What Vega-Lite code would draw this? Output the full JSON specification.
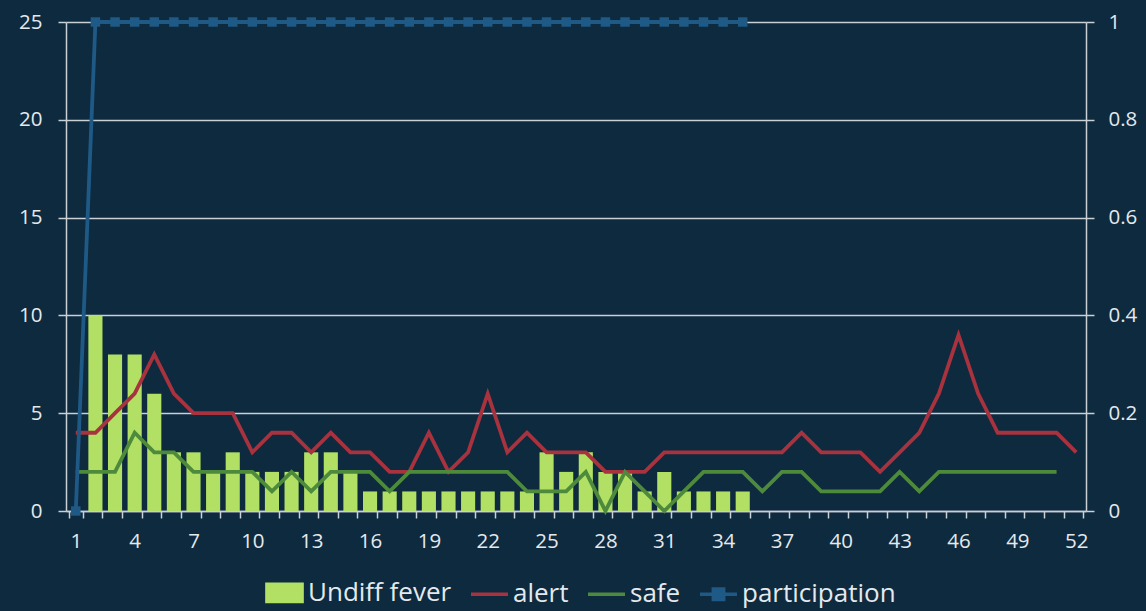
{
  "$schema": "https://vega.github.io/schema/vega-lite/v6.json",
  "width": 1020,
  "height": 489,
  "autosize": "none",
  "padding": {"left": 66, "top": 22, "right": 60, "bottom": 100},
  "background": "#0d2a3f",
  "config": {
    "view": {"stroke": null},
    "font": "Open Sans",
    "axis": {"labelFont": "Open Sans", "labelColor": "#e4e9ed", "labelFontSize": 20.5, "titleColor": "#e4e9ed"},
    "legend": {"labelFont": "Open Sans"}
  },
  "data": {
    "values": [
      {"week": 1, "fever": 0, "alert": 4, "safe": 2, "participation": 0},
      {"week": 2, "fever": 10, "alert": 4, "safe": 2, "participation": 1},
      {"week": 3, "fever": 8, "alert": 5, "safe": 2, "participation": 1},
      {"week": 4, "fever": 8, "alert": 6, "safe": 4, "participation": 1},
      {"week": 5, "fever": 6, "alert": 8, "safe": 3, "participation": 1},
      {"week": 6, "fever": 3, "alert": 6, "safe": 3, "participation": 1},
      {"week": 7, "fever": 3, "alert": 5, "safe": 2, "participation": 1},
      {"week": 8, "fever": 2, "alert": 5, "safe": 2, "participation": 1},
      {"week": 9, "fever": 3, "alert": 5, "safe": 2, "participation": 1},
      {"week": 10, "fever": 2, "alert": 3, "safe": 2, "participation": 1},
      {"week": 11, "fever": 2, "alert": 4, "safe": 1, "participation": 1},
      {"week": 12, "fever": 2, "alert": 4, "safe": 2, "participation": 1},
      {"week": 13, "fever": 3, "alert": 3, "safe": 1, "participation": 1},
      {"week": 14, "fever": 3, "alert": 4, "safe": 2, "participation": 1},
      {"week": 15, "fever": 2, "alert": 3, "safe": 2, "participation": 1},
      {"week": 16, "fever": 1, "alert": 3, "safe": 2, "participation": 1},
      {"week": 17, "fever": 1, "alert": 2, "safe": 1, "participation": 1},
      {"week": 18, "fever": 1, "alert": 2, "safe": 2, "participation": 1},
      {"week": 19, "fever": 1, "alert": 4, "safe": 2, "participation": 1},
      {"week": 20, "fever": 1, "alert": 2, "safe": 2, "participation": 1},
      {"week": 21, "fever": 1, "alert": 3, "safe": 2, "participation": 1},
      {"week": 22, "fever": 1, "alert": 6, "safe": 2, "participation": 1},
      {"week": 23, "fever": 1, "alert": 3, "safe": 2, "participation": 1},
      {"week": 24, "fever": 1, "alert": 4, "safe": 1, "participation": 1},
      {"week": 25, "fever": 3, "alert": 3, "safe": 1, "participation": 1},
      {"week": 26, "fever": 2, "alert": 3, "safe": 1, "participation": 1},
      {"week": 27, "fever": 3, "alert": 3, "safe": 2, "participation": 1},
      {"week": 28, "fever": 2, "alert": 2, "safe": 0, "participation": 1},
      {"week": 29, "fever": 2, "alert": 2, "safe": 2, "participation": 1},
      {"week": 30, "fever": 1, "alert": 2, "safe": 1, "participation": 1},
      {"week": 31, "fever": 2, "alert": 3, "safe": 0, "participation": 1},
      {"week": 32, "fever": 1, "alert": 3, "safe": 1, "participation": 1},
      {"week": 33, "fever": 1, "alert": 3, "safe": 2, "participation": 1},
      {"week": 34, "fever": 1, "alert": 3, "safe": 2, "participation": 1},
      {"week": 35, "fever": 1, "alert": 3, "safe": 2, "participation": 1},
      {"week": 36, "fever": null, "alert": 3, "safe": 1, "participation": null},
      {"week": 37, "fever": null, "alert": 3, "safe": 2, "participation": null},
      {"week": 38, "fever": null, "alert": 4, "safe": 2, "participation": null},
      {"week": 39, "fever": null, "alert": 3, "safe": 1, "participation": null},
      {"week": 40, "fever": null, "alert": 3, "safe": 1, "participation": null},
      {"week": 41, "fever": null, "alert": 3, "safe": 1, "participation": null},
      {"week": 42, "fever": null, "alert": 2, "safe": 1, "participation": null},
      {"week": 43, "fever": null, "alert": 3, "safe": 2, "participation": null},
      {"week": 44, "fever": null, "alert": 4, "safe": 1, "participation": null},
      {"week": 45, "fever": null, "alert": 6, "safe": 2, "participation": null},
      {"week": 46, "fever": null, "alert": 9, "safe": 2, "participation": null},
      {"week": 47, "fever": null, "alert": 6, "safe": 2, "participation": null},
      {"week": 48, "fever": null, "alert": 4, "safe": 2, "participation": null},
      {"week": 49, "fever": null, "alert": 4, "safe": 2, "participation": null},
      {"week": 50, "fever": null, "alert": 4, "safe": 2, "participation": null},
      {"week": 51, "fever": null, "alert": 4, "safe": 2, "participation": null},
      {"week": 52, "fever": null, "alert": 3, "safe": null, "participation": null}
    ]
  },
  "encoding": {
    "x": {
      "field": "week",
      "type": "ordinal",
      "scale": {"paddingInner": 0.28, "paddingOuter": 0.14},
      "axis": {
        "title": null,
        "labelAngle": 0,
        "tickBand": "extent",
        "labelExpr": "(datum.value - 1) % 3 === 0 ? datum.label : ''",
        "tickColor": "#c9d0d6",
        "tickSize": 7,
        "tickWidth": 1.5,
        "domainColor": "#c9d0d6",
        "domainWidth": 1.5,
        "labelPadding": 13,
        "grid": false
      }
    }
  },
  "layer": [
    {
      "layer": [
        {
          "mark": {"type": "bar"},
          "encoding": {
            "y": {
              "field": "fever",
              "type": "quantitative",
              "scale": {"domain": [0, 25], "nice": false, "zero": true},
              "axis": {
                "title": null,
                "orient": "left",
                "values": [0, 5, 10, 15, 20, 25],
                "grid": true,
                "gridColor": "#c9d0d6",
                "gridWidth": 1.5,
                "domainColor": "#c9d0d6",
                "domainWidth": 1.5,
                "tickColor": "#c9d0d6",
                "tickWidth": 1.5,
                "tickSize": 8,
                "labelPadding": 16
              }
            },
            "color": {
              "datum": "Undiff fever",
              "type": "nominal",
              "scale": {
                "domain": ["Undiff fever", "alert", "safe", "participation"],
                "range": ["#b2e064", "#a8323e", "#4e8a3c", "#1f5a86"]
              },
              "legend": {
                "title": null,
                "orient": "none",
                "direction": "horizontal",
                "legendX": 198,
                "legendY": 550,
                "symbolSize": 1369,
                "labelFontSize": 26,
                "labelColor": "#e4e9ed",
                "labelOffset": 3,
                "columnPadding": 12,
                "encode": {
                  "symbols": {
                    "update": {
                      "shape": {"signal": "datum.value === 'Undiff fever' ? 'M-0.95,-0.47H0.95V0.47H-0.95Z' : datum.value === 'participation' ? 'M-1,0H1M-0.28,-0.28H0.28V0.28H-0.28Z' : 'M-1,0H1'"},
                      "fill": {"signal": "datum.value === 'Undiff fever' ? '#b2e064' : datum.value === 'participation' ? '#1f5a86' : 'transparent'"},
                      "stroke": {"signal": "datum.value === 'Undiff fever' ? 'transparent' : datum.value === 'alert' ? '#a8323e' : datum.value === 'safe' ? '#4e8a3c' : '#1f5a86'"},
                      "strokeWidth": {"value": 3.5},
                      "size": {"value": 1369},
                      "opacity": {"value": 1}
                    }
                  }
                }
              }
            }
          }
        },
        {
          "mark": {"type": "line", "strokeWidth": 3.8},
          "encoding": {
            "y": {"field": "alert", "type": "quantitative"},
            "color": {"datum": "alert", "type": "nominal"}
          }
        },
        {
          "mark": {"type": "line", "strokeWidth": 3.8},
          "encoding": {
            "y": {"field": "safe", "type": "quantitative"},
            "color": {"datum": "safe", "type": "nominal"}
          }
        }
      ]
    },
    {
      "mark": {"type": "line", "strokeWidth": 3.8, "point": {"shape": "square", "size": 90, "filled": true, "opacity": 1}},
      "encoding": {
        "y": {
          "field": "participation",
          "type": "quantitative",
          "scale": {"domain": [0, 1], "nice": false},
          "axis": {
            "title": null,
            "orient": "right",
            "values": [0, 0.2, 0.4, 0.6, 0.8, 1],
            "format": "~g",
            "grid": false,
            "domainColor": "#c9d0d6",
            "domainWidth": 1.5,
            "tickColor": "#c9d0d6",
            "tickWidth": 1.5,
            "tickSize": 8,
            "labelPadding": 14
          }
        },
        "color": {"datum": "participation", "type": "nominal"}
      }
    }
  ],
  "resolve": {"scale": {"y": "independent"}}
}
